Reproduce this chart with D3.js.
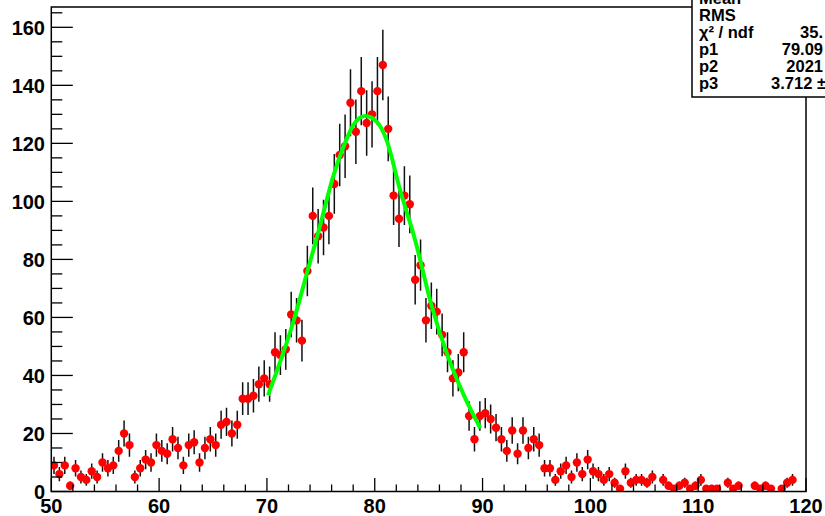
<!DOCTYPE html>
<html>
<head>
<meta charset="utf-8">
<script src="https://cdn.jsdelivr.net/npm/d3@7"></script>
<style>
  body { margin: 0; background: #fff; }
  svg { display: block; font-family: "Liberation Sans", Arial, sans-serif; font-weight: bold; }
</style>
</head>
<body>
<div id="chart"></div>
<script>
// histogram range, 140 bins of 0.5
const xRange = [50, 120];
const binWidth = 0.5;
const counts = [
  9, 6, 9, 2, 8, 5, 4, 7, 5, 10,
  8, 9, 14, 20, 16, 5, 8, 11, 10, 16,
  14, 13, 18, 15, 9, 16, 17, 10, 15, 18,
  16, 23, 24, 20, 23, 32, 32, 33, 37, 39,
  37, 48, 47, 49, 61, 59, 52, 76, 95, 88,
  91, 95, 106, 116, 119, 134, 124, 138, 127, 130,
  138, 147, 125, 102, 94, 102, 99, 73, 78, 59,
  64, 62, 54, 48, 39, 41, 48, 26, 18, 26,
  27, 25, 22, 18, 14, 21, 13, 21, 15, 18,
  16, 8, 8, 4, 7, 9, 5, 10, 6, 11,
  7, 6, 4, 6, 3, 1, 7, 3, 4, 4,
  3, 5, 0, 4, 2, 1, 2, 3, 1, 2,
  4, 1, 1, 1, 0, 3, 1, 2, 0, 0,
  2, 1, 2, 1, 0, 1, 3, 4, 0, 0
];

// fit curve
const fitX = [70.1, 72.5, 73.75, 74.9, 76.1, 77.1, 78.0, 79.1, 80.2, 81.1, 82.35, 83.75, 85.3, 86.8, 88.4, 89.8];
const fitY = [33.2, 59.1, 75.8, 91.2, 108, 118.8, 126.2, 129.4, 127.4, 121.1, 103.9, 86.6, 63.7, 46.4, 32.1, 21.8];

const xTicks = [50, 60, 70, 80, 90, 100, 110, 120];
const yTicks = [0, 20, 40, 60, 80, 100, 120, 140, 160];
const yMax = 167;

const statsLabels = ["Mean", "RMS", "χ² / ndf", "p1", "p2", "p3"];
const statsValues = ["", "", "35.", "79.09", "2021", "3.712 ±"];

const width = 825, height = 516;

const svg = d3.select("#chart")
  .append("svg")
    .attr("width", width)
    .attr("height", height);

const x = d3.scaleLinear().domain(xRange).range([51.3, 806]);
const y = d3.scaleLinear().domain([0, yMax]).range([491.5, 7]);

svg.append("clipPath")
    .attr("id", "frame-clip")
  .append("rect")
    .attr("x", x(xRange[0]))
    .attr("y", y(yMax))
    .attr("width", x(xRange[1]) - x(xRange[0]))
    .attr("height", y(0) - y(yMax));

const bins = counts
  .map((c, i) => ({center: xRange[0] + binWidth * (i + 0.5), count: c}))
  .filter(d => d.count > 0);

const plot = svg.append("g")
    .attr("clip-path", "url(#frame-clip)");

// error bars
plot.append("g")
  .selectAll("line")
  .data(bins)
  .join("line")
    .attr("x1", d => x(d.center))
    .attr("x2", d => x(d.center))
    .attr("y1", d => y(d.count - Math.sqrt(d.count)))
    .attr("y2", d => y(d.count + Math.sqrt(d.count)))
    .attr("stroke", "#111")
    .attr("stroke-width", 1.5);

plot.append("g")
  .selectAll("circle")
  .data(bins)
  .join("circle")
    .attr("cx", d => x(d.center))
    .attr("cy", d => y(d.count))
    .attr("r", 4.2)
    .attr("fill", "#ff0000");

const fitLine = d3.line()
  .x(d => x(d[0]))
  .y(d => y(d[1]))
  .curve(d3.curveMonotoneX);

plot.append("path")
    .attr("d", fitLine(d3.zip(fitX, fitY)))
    .attr("fill", "none")
    .attr("stroke", "#00ff00")
    .attr("stroke-width", 4);

// frame
svg.append("rect")
    .attr("x", x(xRange[0]))
    .attr("y", y(yMax))
    .attr("width", x(xRange[1]) - x(xRange[0]))
    .attr("height", y(0) - y(yMax))
    .attr("fill", "none")
    .attr("stroke", "#000")
    .attr("stroke-width", 1.5);

// y ticks inside the frame
const yAxis = svg.append("g");
yAxis.selectAll("line.minor")
  .data(d3.range(0, yMax, 5))
  .join("line")
    .attr("class", "minor")
    .attr("x1", x(xRange[0]))
    .attr("x2", d => x(xRange[0]) + (d % 20 === 0 ? 21.5 : 11))
    .attr("y1", d => y(d))
    .attr("y2", d => y(d))
    .attr("stroke", "#000")
    .attr("stroke-width", 1.3);

yAxis.selectAll("text")
  .data(yTicks)
  .join("text")
    .attr("x", 45)
    .attr("y", d => y(d))
    .attr("dy", "0.36em")
    .attr("text-anchor", "end")
    .style("font-size", "20px")
    .text(d => d);

// x ticks
const xAxis = svg.append("g");
xAxis.selectAll("line")
  .data(d3.range(xRange[0], xRange[1] + 1, 2))
  .join("line")
    .attr("x1", d => x(d))
    .attr("x2", d => x(d))
    .attr("y1", y(0))
    .attr("y2", d => y(0) - (d % 10 === 0 ? 13.5 : 7))
    .attr("stroke", "#000")
    .attr("stroke-width", 1.3);

xAxis.selectAll("text")
  .data(xTicks)
  .join("text")
    .attr("x", d => x(d))
    .attr("y", 513)
    .attr("text-anchor", "middle")
    .style("font-size", "20px")
    .text(d => d);

// stats box, cut by the canvas edge
const stats = svg.append("g");
stats.append("rect")
    .attr("x", 692)
    .attr("y", -5)
    .attr("width", 140)
    .attr("height", 102)
    .attr("fill", "#fff")
    .attr("stroke", "#000")
    .attr("stroke-width", 1.5);

const rowY = [3.5, 21, 37.5, 54.5, 71.5, 88.5];
stats.selectAll("text.label")
  .data(statsLabels)
  .join("text")
    .attr("class", "label")
    .attr("x", 699)
    .attr("y", (d, i) => rowY[i])
    .style("font-size", "16.5px")
    .text(d => d);

stats.selectAll("text.value")
  .data(statsValues)
  .join("text")
    .attr("class", "value")
    .attr("x", (d, i) => i === 5 ? 826 : 823)
    .attr("y", (d, i) => rowY[i])
    .attr("text-anchor", "end")
    .style("font-size", "16.5px")
    .text(d => d);
</script>
</body>
</html>
